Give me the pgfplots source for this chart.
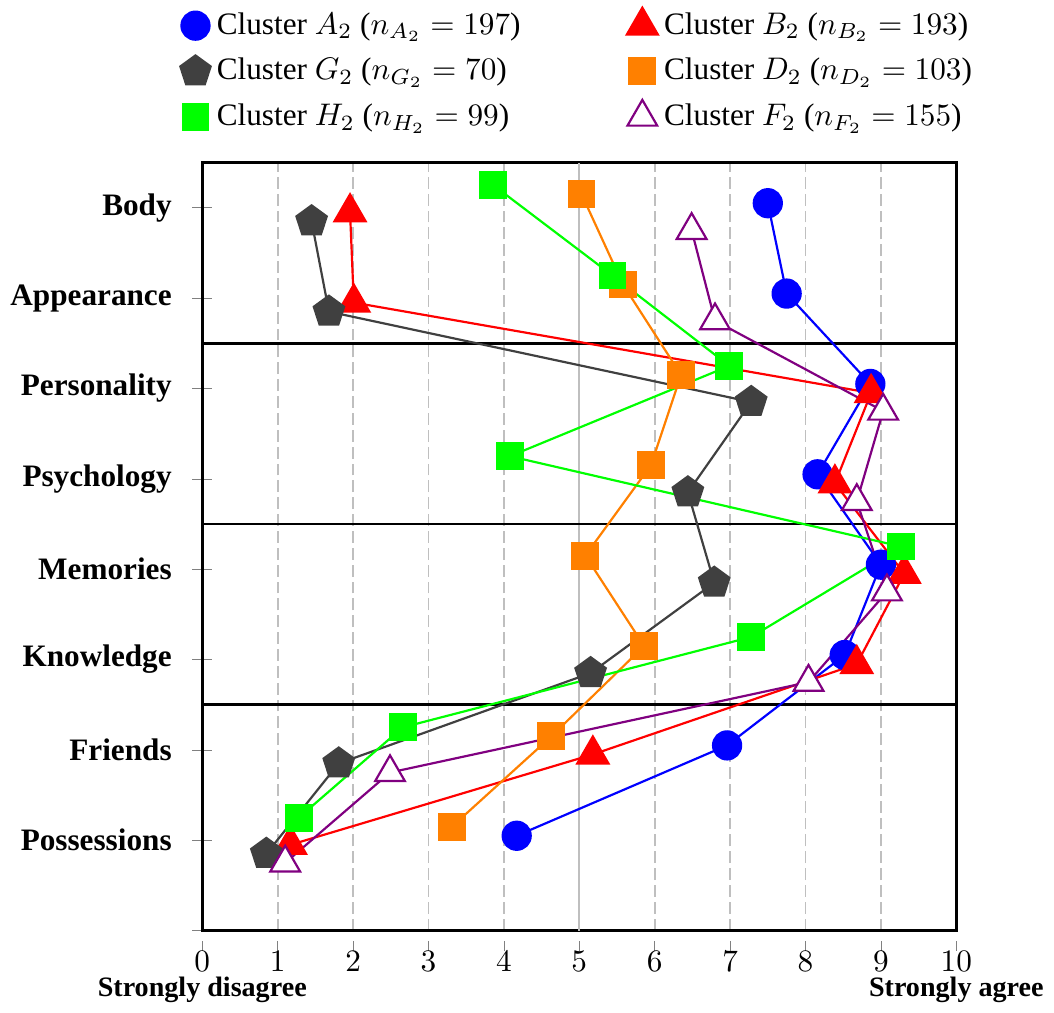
\documentclass[border=0pt]{standalone}
\usepackage{pgfplots}
\pgfplotsset{compat=1.18}
\usepackage{fontspec}
\setmainfont{Liberation Serif}
\definecolor{cA}{RGB}{0,0,255}
\definecolor{cB}{RGB}{255,0,0}
\definecolor{cG}{RGB}{64,64,64}
\definecolor{cD}{RGB}{255,128,0}
\definecolor{cH}{RGB}{0,255,0}
\definecolor{cF}{RGB}{128,0,128}
\begin{document}
\begin{tikzpicture}
\begin{axis}[
  scale only axis, width=241.5pt, height=246pt,
  xmin=0, xmax=10, ymin=0, ymax=8.5,
  clip=false,
  xtick={0,...,10},
  ytick={0,...,8},
  yticklabels={,Possessions,Friends,Knowledge,Memories,Psychology,Personality,Appearance,Body},
  yticklabel style={font=\bfseries, xshift=-3pt},
  xticklabel style={yshift=3.5pt},
  xtick pos=bottom, ytick pos=left,
  xtick align=outside, ytick align=center,
  major tick length=6.5pt,
  xtick style={dash pattern=on 3.2pt off 20pt},
  axis line style={line width=0.8pt},
  xmajorgrids,
  major grid style={gray!50, dash pattern=on 3.8pt off 1.6pt, line width=0.6pt},
  legend columns=2,
  legend cell align=left,
  legend style={at={(0.5,1.025)}, anchor=south, draw=none, fill=none, row sep=2.2pt,
    /tikz/every even column/.append style={column sep=32pt}},
  legend image code/.code={\draw[#1] plot[only marks] coordinates {(0cm,0cm)};},
]
\draw[gray!50, line width=0.6pt] (axis cs:5,0) -- (axis cs:5,8.5);
\draw[black, line width=0.8pt] (axis cs:0,2.5) -- (axis cs:10,2.5);
\draw[black, line width=0.8pt] (axis cs:0,4.5) -- (axis cs:10,4.5);
\draw[black, line width=0.8pt] (axis cs:0,6.5) -- (axis cs:10,6.5);

\addplot[cA, line width=0.7pt, mark=*, mark size=4.5pt, mark options={solid}] coordinates {
 (7.50,8.05) (7.75,7.05) (8.86,6.05) (8.16,5.05) (9.00,4.05) (8.52,3.05) (6.96,2.05) (4.17,1.05)};
\addlegendentry{Cluster $A_2$ ($n_{A_2}=197$)}
\addplot[cB, line width=0.7pt, mark=triangle*, mark size=5.75pt, mark options={solid}] coordinates {
 (1.96,7.95) (2.01,6.95) (8.87,5.95) (8.39,4.95) (9.31,3.95) (8.68,2.95) (5.18,1.95) (1.17,0.95)};
\addlegendentry{Cluster $B_2$ ($n_{B_2}=193$)}
\addplot[cG, line width=0.7pt, mark=pentagon*, mark size=5.1pt, mark options={solid}] coordinates {
 (1.45,7.85) (1.68,6.85) (7.28,5.85) (6.44,4.85) (6.79,3.85) (5.15,2.85) (1.81,1.85) (0.85,0.85)};
\addlegendentry{Cluster $G_2$ ($n_{G_2}=70$)}
\addplot[cD, line width=0.7pt, mark=square*, mark size=4.1pt, mark options={solid}] coordinates {
 (5.03,8.15) (5.58,7.15) (6.35,6.15) (5.95,5.15) (5.08,4.15) (5.86,3.15) (4.63,2.15) (3.31,1.15)};
\addlegendentry{Cluster $D_2$ ($n_{D_2}=103$)}
\addplot[cH, line width=0.7pt, mark=square*, mark size=4.1pt, mark options={solid}] coordinates {
 (3.86,8.25) (5.44,7.25) (6.99,6.25) (4.08,5.25) (9.27,4.25) (7.28,3.25) (2.66,2.25) (1.28,1.25)};
\addlegendentry{Cluster $H_2$ ($n_{H_2}=99$)}
\addplot[cF, line width=0.7pt, mark=triangle*, mark size=5.5pt, mark options={solid, fill=white, draw=cF}] coordinates {
 (6.49,7.75) (6.80,6.75) (9.03,5.75) (8.68,4.75) (9.08,3.75) (8.04,2.75) (2.49,1.75) (1.10,0.75)};
\addlegendentry{Cluster $F_2$ ($n_{F_2}=155$)}

\node[font=\small\bfseries, anchor=base, yshift=-21pt] at (axis cs:0,0) {Strongly disagree};
\node[font=\small\bfseries, anchor=base, yshift=-21pt] at (axis cs:10,0) {Strongly agree};
\end{axis}
\end{tikzpicture}
\end{document}
